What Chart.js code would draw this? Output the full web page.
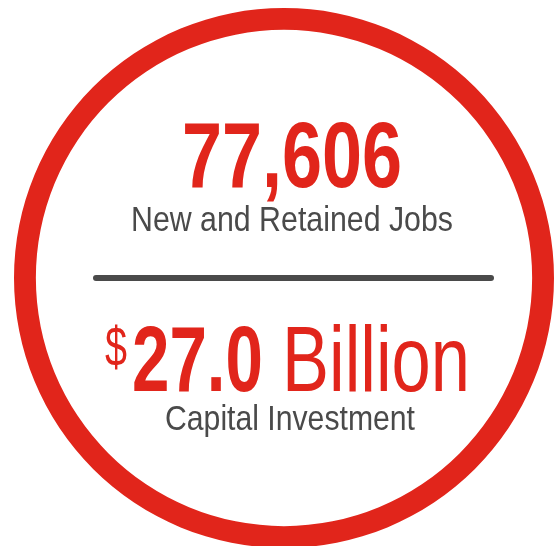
<!DOCTYPE html>
<html>
<head>
<meta charset="utf-8">
<script src="https://cdn.jsdelivr.net/npm/chart.js@4.4.1/dist/chart.umd.min.js"></script>
<style>
  html, body { margin: 0; padding: 0; background: #fff; overflow: hidden; }
  #wrap { position: absolute; left: 0; top: 0; width: 558px; height: 550px; }
</style>
</head>
<body>
<div id="wrap"><canvas id="ring" width="558" height="550"></canvas></div>
<script>
// --- Data ---
const ringLabels = ['Highlights'];
const ringValues = [1];
const metricLabels = ['New and Retained Jobs', 'Capital Investment'];
const metricValues = [77606, 27.0];
const metricPrefix = ['', '$'];
const metricUnits = ['', 'Billion'];

const RED = '#e1251b';
const GRAY = '#4a4a4a';
const FONT = '"Liberation Sans", Arial, sans-serif';

// draw text squeezed to a given width (the original uses a narrow face)
function fitText(ctx, text, x, y, font, width, color) {
  ctx.save();
  ctx.font = font;
  ctx.fillStyle = color;
  ctx.textAlign = 'left';
  ctx.textBaseline = 'alphabetic';
  const w = ctx.measureText(text).width;
  ctx.translate(x, y);
  ctx.scale(width / w, 1);
  ctx.fillText(text, 0, 0);
  ctx.restore();
}

const centerText = {
  id: 'centerText',
  afterDraw(chart) {
    const ctx = chart.ctx;
    const jobs = metricValues[0].toLocaleString('en-US');
    const inv = metricValues[1].toFixed(1);

    fitText(ctx, jobs, 182, 187, `bold 92px ${FONT}`, 220, RED);
    fitText(ctx, metricLabels[0], 131, 231, `35px ${FONT}`, 322, GRAY);

    // divider
    ctx.save();
    ctx.strokeStyle = GRAY;
    ctx.lineWidth = 6;
    ctx.lineCap = 'round';
    ctx.beginPath();
    ctx.moveTo(96, 278);
    ctx.lineTo(491, 278);
    ctx.stroke();
    ctx.restore();

    fitText(ctx, metricPrefix[1], 105, 366, `55px ${FONT}`, 22, RED);
    fitText(ctx, inv, 132, 391, `bold 93px ${FONT}`, 131, RED);
    fitText(ctx, metricUnits[1], 282, 391, `93px ${FONT}`, 188, RED);
    fitText(ctx, metricLabels[1], 165, 430, `35px ${FONT}`, 250, GRAY);
  }
};

new Chart(document.getElementById('ring').getContext('2d'), {
  type: 'doughnut',
  data: {
    labels: ringLabels,
    datasets: [{ data: ringValues, backgroundColor: RED, borderWidth: 0, hoverOffset: 0 }]
  },
  options: {
    responsive: false,
    animation: false,
    cutout: '91.9%',
    layout: { padding: { left: 14, right: 4, top: 8, bottom: 2 } },
    plugins: { legend: { display: false }, tooltip: { enabled: false } },
    events: []
  },
  plugins: [centerText]
});
</script>
</body>
</html>
